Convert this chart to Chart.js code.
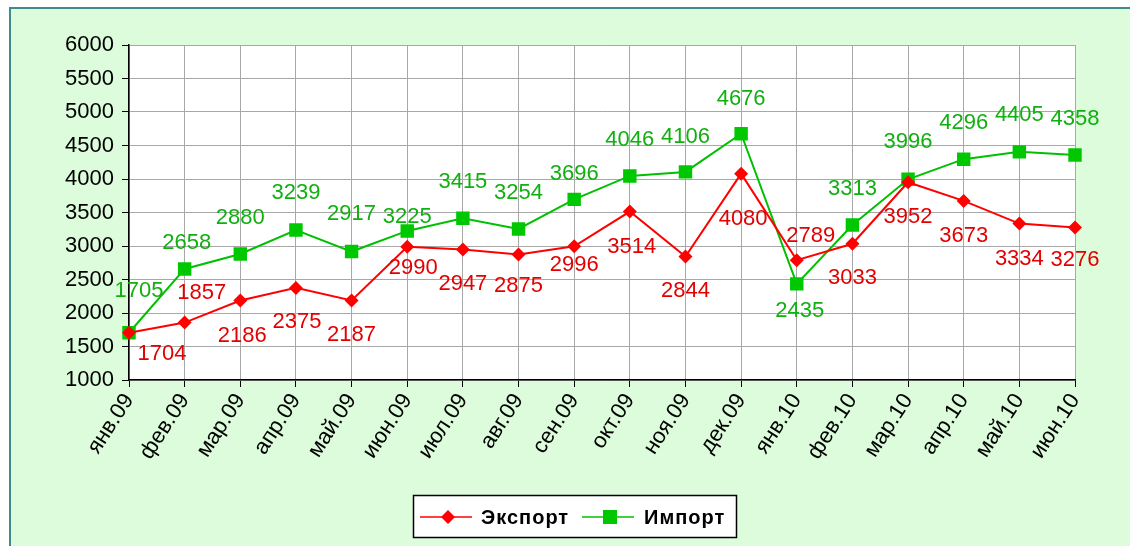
<!DOCTYPE html>
<html>
<head>
<meta charset="utf-8">
<script src="https://cdn.jsdelivr.net/npm/chart.js@4.4.1/dist/chart.umd.min.js"></script>
<style>
  html, body { margin: 0; padding: 0; background: #fff; }
  #grafico { display: block; }
</style>
</head>
<body>
<canvas id="grafico" width="1130" height="546"></canvas>
<script>
const meses = ['янв.09', 'фев.09', 'мар.09', 'апр.09', 'май.09', 'июн.09', 'июл.09', 'авг.09', 'сен.09',
  'окт.09', 'ноя.09', 'дек.09', 'янв.10', 'фев.10', 'мар.10', 'апр.10', 'май.10', 'июн.10'];
const exportacao = [1704, 1857, 2186, 2375, 2187, 2990, 2947, 2875, 2996, 3514, 2844, 4080, 2789, 3033, 3952, 3673, 3334, 3276];
const importacao = [1705, 2658, 2880, 3239, 2917, 3225, 3415, 3254, 3696, 4046, 4106, 4676, 2435, 3313, 3996, 4296, 4405, 4358];
const yMin = 1000;
const yMax = 6000;
const yPasso = 500;

// deslocamento dos rótulos em relação ao ponto (como no Excel)
const expDx = [33, 17, 2, 1, 0, 6, 0, 0, 0, 2, 0, 2, 14, 0, 0, 0, 0, 0];
const expDy = [21, -30, 35, 34, 34, 21, 34, 32, 19, 35, 34, 45, -24, 34, 35, 35, 35, 32];
const impDx = [10, 2, 0, 0, 0, 0, 0, 0, 0, 0, 0, 0, 3, 0, 0, 0, 0, 0];
const impDy = [-42, -26, -36, -37, -38, -14, -36, -36, -25, -36, -35, -35, 27, -36, -37, -36, -37, -36];

const fonte = 'Liberation Sans, Arial, sans-serif';
const ctx = document.getElementById('grafico').getContext('2d');

const fundo = {
  id: 'fundo',
  beforeDraw(chart) {
    const c = chart.ctx;
    const a = chart.chartArea;
    c.save();
    c.fillStyle = '#ffffff';
    c.fillRect(0, 0, chart.width, chart.height);
    c.fillStyle = '#dcfcdc';
    c.fillRect(10, 8, chart.width, chart.height);
    c.strokeStyle = '#3f8c8c';
    c.lineWidth = 2;
    c.strokeRect(10, 8, chart.width + 10, chart.height + 10);
    c.fillStyle = '#ffffff';
    c.fillRect(a.left, a.top, a.right - a.left, a.bottom - a.top);
    c.restore();
  }
};

const rotulos = {
  id: 'rotulos',
  afterDatasetsDraw(chart) {
    const c = chart.ctx;
    const desloc = [[expDx, expDy], [impDx, impDy]];
    c.save();
    c.font = '22px ' + fonte;
    c.textAlign = 'center';
    c.textBaseline = 'middle';
    chart.data.datasets.forEach((ds, i) => {
      const meta = chart.getDatasetMeta(i);
      c.fillStyle = ds.corRotulo;
      meta.data.forEach((p, j) => {
        c.fillText(String(ds.data[j]), p.x + desloc[i][0][j], p.y + desloc[i][1][j]);
      });
    });
    c.restore();
  }
};

const legenda = {
  id: 'legenda',
  afterDraw(chart) {
    const c = chart.ctx;
    const ds = chart.data.datasets;
    c.save();
    c.fillStyle = '#ffffff';
    c.fillRect(413, 495, 324, 43);
    c.strokeStyle = '#000000';
    c.lineWidth = 1.5;
    c.strokeRect(413.5, 495.5, 323, 42);
    const itens = [{ x: 420, texto: 481 }, { x: 582, texto: 644 }];
    c.font = 'bold 20px ' + fonte;
    c.textBaseline = 'middle';
    c.letterSpacing = '1px';
    itens.forEach((it, i) => {
      const y = 517;
      c.strokeStyle = ds[i].borderColor;
      c.lineWidth = 1.5;
      c.beginPath();
      c.moveTo(it.x, y);
      c.lineTo(it.x + 52, y);
      c.stroke();
      c.fillStyle = ds[i].backgroundColor;
      const mx = it.x + 28;
      if (i === 0) {
        c.beginPath();
        c.moveTo(mx, y - 7);
        c.lineTo(mx + 7, y);
        c.lineTo(mx, y + 7);
        c.lineTo(mx - 7, y);
        c.closePath();
        c.fill();
      } else {
        c.fillRect(mx - 7, y - 7, 14, 14);
      }
      c.fillStyle = '#000000';
      c.fillText(ds[i].label, it.texto, y + 1);
    });
    c.restore();
  }
};

new Chart(ctx, {
  type: 'line',
  data: {
    labels: meses,
    datasets: [{
      label: 'Экспорт',
      data: exportacao,
      borderColor: '#ff0000',
      backgroundColor: '#ff0000',
      corRotulo: '#e40000',
      borderWidth: 2,
      pointStyle: 'rectRot',
      pointRadius: 7,
      pointBorderWidth: 0,
      tension: 0
    }, {
      label: 'Импорт',
      data: importacao,
      borderColor: '#00c000',
      backgroundColor: '#00c800',
      corRotulo: '#10b010',
      borderWidth: 2,
      pointStyle: 'rect',
      pointRadius: 9.5,
      pointBorderWidth: 0,
      tension: 0
    }]
  },
  options: {
    responsive: false,
    animation: false,
    devicePixelRatio: 1,
    layout: { padding: { left: 0, right: 55, top: 45, bottom: 0 } },
    plugins: {
      legend: { display: false },
      tooltip: { enabled: false }
    },
    scales: {
      x: {
        offset: false,
        grid: { color: '#a8a8a8', tickColor: '#000000', tickLength: 7 },
        border: { color: '#000000', width: 1.5 },
        ticks: {
          color: '#000000',
          font: { family: fonte, size: 22 },
          minRotation: 57,
          maxRotation: 57,
          autoSkip: false,
          padding: 2
        },
        afterFit(s) { s.height = 166; }
      },
      y: {
        min: yMin,
        max: yMax,
        grid: { color: '#a8a8a8', tickColor: '#000000', tickLength: 7 },
        border: { color: '#000000', width: 1.5 },
        ticks: {
          stepSize: yPasso,
          color: '#000000',
          font: { family: fonte, size: 22 },
          padding: 8,
          callback: v => String(v)
        },
        afterFit(s) { s.width = 129; }
      }
    }
  },
  plugins: [fundo, rotulos, legenda]
});
</script>
</body>
</html>
